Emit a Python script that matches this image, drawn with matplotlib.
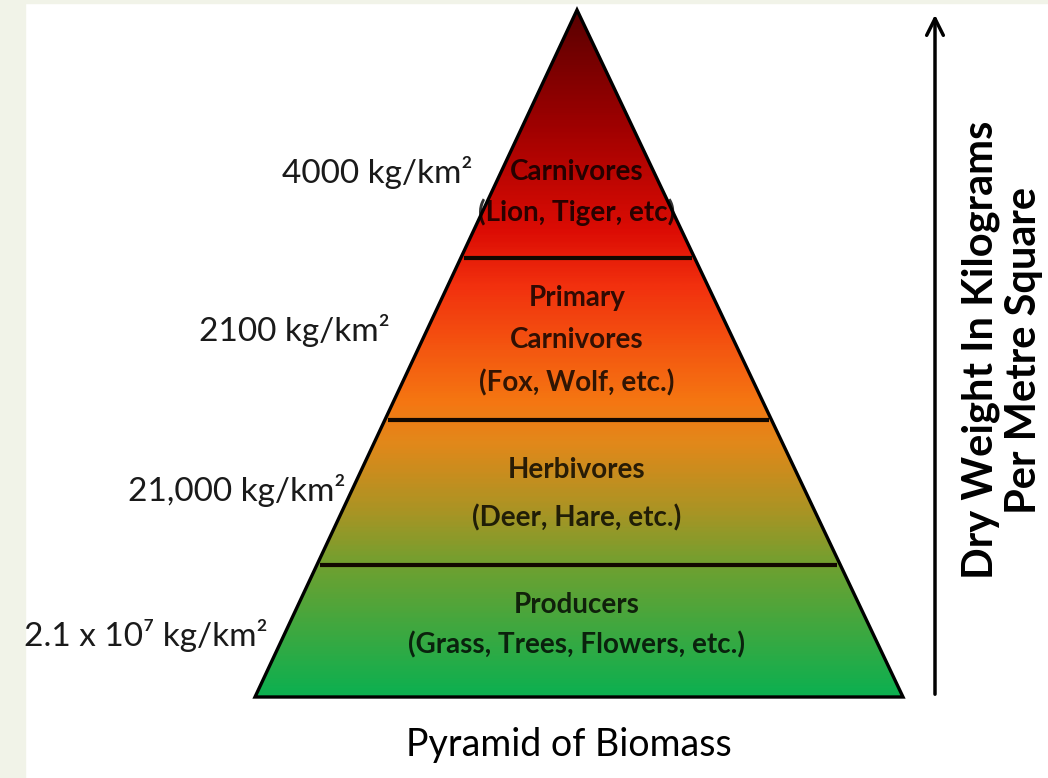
import numpy as np
import matplotlib
matplotlib.use("Agg")
import matplotlib.pyplot as plt
from matplotlib.patches import Polygon, Rectangle
from matplotlib.colors import LinearSegmentedColormap

# ============================================================
# DATA
# ============================================================

levels = ["Carnivores", "Primary\nCarnivores", "Herbivores", "Producers"]
examples = ["(Lion, Tiger, etc)", "(Fox, Wolf, etc.)", "(Deer, Hare, etc.)",
            "(Grass, Trees, Flowers, etc.)"]
biomass = ["4000 kg/km²", "2100 kg/km²", "21,000 kg/km²", "2.1 x 10⁷ kg/km²"]

title = "Pyramid of Biomass"
axis_label = ["Dry Weight In Kilograms", "Per Metre Square"]

# ============================================================
# LAYOUT (pixel coords, y down)
# ============================================================

W, H = 1048, 778
apex = (577, 10)
base_y, base_l, base_r = 697, 255, 903
dividers = [258, 420, 565]
label_y = [172, 330, 490, 636]
label_right = [472, 390, 345, 268]
name_y = [[172], [298, 340], [470], [605]]
ex_y = [212, 383, 518, 645]

FONT = ["Lato", "DejaVu Sans"]

fig = plt.figure(figsize=(W / 100, H / 100), dpi=100)
ax = fig.add_axes([0, 0, 1, 1])
ax.set_xlim(0, W)
ax.set_ylim(H, 0)
ax.axis("off")

# light strip on the left / top
ax.add_patch(Rectangle((0, 0), 25, H, color="#f1f3e8", zorder=0))
ax.add_patch(Rectangle((0, 0), W, 3, color="#f1f3e8", zorder=0))


def edge_x(y, side):
    t = (y - apex[1]) / (base_y - apex[1])
    end = base_l if side == "l" else base_r
    return apex[0] + t * (end - apex[0])


# gradient fill clipped to the triangle
cmap = LinearSegmentedColormap.from_list("bio", [
    (0.00, "#5a0000"), (0.16, "#9c0000"), (0.32, "#dc0c04"),
    (0.40, "#f2300e"), (0.57, "#f57612"), (0.63, "#e2881a"),
    (0.73, "#aa9424"), (0.81, "#70a030"), (1.00, "#0cb050")])
grad = np.linspace(0, 1, 400).reshape(-1, 1)
tri = Polygon([apex, (base_l, base_y), (base_r, base_y)], closed=True,
              facecolor="none", edgecolor="black", linewidth=2.4, zorder=3,
              joinstyle="miter")
im = ax.imshow(grad, cmap=cmap, aspect="auto", origin="upper",
               extent=(base_l, base_r, base_y, apex[1]), zorder=1)
ax.add_patch(tri)
im.set_clip_path(tri)

for y in dividers:
    ax.plot([edge_x(y, "l") + 3, edge_x(y, "r") - 3], [y, y],
            color="#120800", linewidth=3, zorder=2, solid_capstyle="butt")

# layer texts
for i, (nm, ex) in enumerate(zip(levels, examples)):
    for line, y in zip(nm.split("\n"), name_y[i]):
        ax.text(577, y, line, ha="center", va="center", fontsize=20,
                fontweight="bold", family=FONT, color="black", alpha=0.8,
                zorder=4)
    ax.text(577, ex_y[i], ex, ha="center", va="center", fontsize=20,
            fontweight="bold", family=FONT, color="black", alpha=0.8, zorder=4)

# biomass values
for txt, x, y in zip(biomass, label_right, label_y):
    ax.text(x, y, txt, ha="right", va="center", fontsize=24, family=FONT,
            color="#1a1a1a", zorder=4)

ax.text(569, 745, title, ha="center", va="center", fontsize=27,
        family=FONT, color="black")

# arrow + axis label
ax.annotate("", xy=(935, 12), xytext=(935, 697),
            arrowprops=dict(arrowstyle="->", color="black", lw=2.5,
                            mutation_scale=30))
for line, x in zip(axis_label, [981, 1024]):
    ax.text(x, 350, line, rotation=90, ha="center", va="center",
            fontsize=30, fontweight="bold", family=FONT, color="black")

fig.savefig("out.png", dpi=100)
